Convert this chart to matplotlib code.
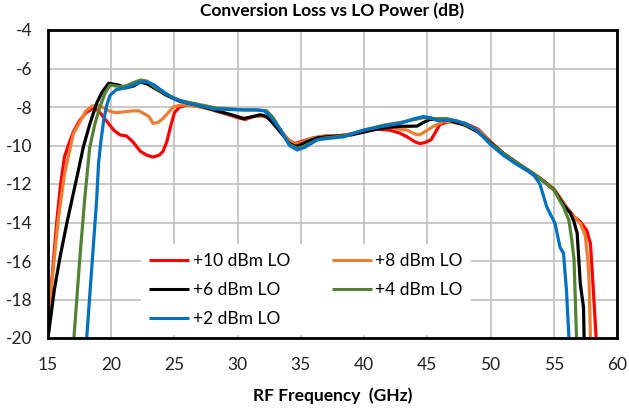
import matplotlib
matplotlib.use("Agg")
import matplotlib.pyplot as plt

plt.rcParams['font.family'] = ['Lato', 'DejaVu Sans']
plt.rcParams['axes.unicode_minus'] = False

# data
x_10 = [15, 15.3, 15.7, 16.0, 16.3, 16.6, 17.0, 17.5, 18.0, 18.6, 19.0, 19.6, 20.2, 20.7, 21.2, 21.7, 22.3, 22.8,
        23.3, 23.8, 24.1, 24.4, 24.7, 25.0, 25.4, 26, 27, 28, 29, 30, 30.6, 31.2, 32, 32.8, 33.5, 34.0, 34.5, 35,
        36, 37, 38, 39, 40, 41, 42, 42.8, 43.4, 44.0, 44.4, 44.8, 45.3, 46.0, 46.8, 48, 49, 50, 51, 52, 53, 54,
        55, 56, 56.6, 57.1, 57.6, 57.9, 58.1, 58.35]
y_10 = [-20, -17, -13.9, -12, -10.6, -10.0, -9.3, -8.7, -8.3, -8.05, -8.2, -8.7, -9.2, -9.45, -9.5, -9.8, -10.3, -10.5,
        -10.6, -10.5, -10.3, -9.8, -9.0, -8.3, -8.0, -7.9, -7.95, -8.15, -8.35, -8.55, -8.65, -8.5, -8.45, -8.7, -9.3,
        -9.7, -9.9, -9.8, -9.6, -9.5, -9.5, -9.4, -9.25, -9.15, -9.2, -9.35, -9.55, -9.8, -9.9, -9.85, -9.7, -8.9,
        -8.75, -8.85, -9.15, -9.8, -10.4, -10.9, -11.3, -11.75, -12.25, -13.2, -13.7, -13.96, -14.4, -15.1, -17.2, -20]

x_8 = [15, 15.4, 15.8, 16.3, 17.0, 17.5, 18.0, 18.5, 18.9, 19.3, 19.8, 20.4, 21.0, 21.7, 22.2, 22.6, 23.0, 23.3,
       23.7, 24.1, 24.5, 24.9, 25.5, 26, 27, 28, 29, 30, 30.6, 31.2, 32, 32.8, 33.5, 34, 34.5, 35, 36, 37, 38, 39,
       40, 41, 42, 42.8, 43.4, 44.0, 44.4, 45.0, 45.5, 46.3, 47, 48, 49, 50, 51, 52, 53, 54, 55, 56, 56.4, 56.8,
       57.1, 57.5, 57.7, 57.8, 57.9]
y_8 = [-19, -16.5, -13.9, -11.5, -9.4, -8.8, -8.2, -7.95, -7.9, -8.0, -8.2, -8.3, -8.25, -8.2, -8.2, -8.35, -8.5,
       -8.85, -8.8, -8.6, -8.3, -8.0, -7.9, -7.9, -8.0, -8.15, -8.35, -8.5, -8.6, -8.5, -8.45, -8.7, -9.3, -9.7,
       -9.95, -9.85, -9.6, -9.5, -9.5, -9.4, -9.25, -9.1, -9.05, -9.15, -9.2, -9.4, -9.45, -9.2, -9.0, -8.75, -8.8,
       -8.9, -9.2, -9.8, -10.4, -10.9, -11.3, -11.75, -12.25, -13.2, -13.6, -13.85, -14.05, -14.7, -16, -17.2, -20]

x_6 = [15, 15.5, 15.95, 16.5, 16.9, 17.4, 17.8, 18.3, 18.85, 19.3, 19.8, 20.5, 21.2, 21.8, 22.3, 22.85, 23.5, 24.4,
       25.4, 26.8, 28.35, 29.5, 30.45, 31.2, 31.8, 32.3, 32.8, 33.5, 34.1, 34.6, 35, 35.5, 36.3, 37, 38, 39, 40, 41,
       42, 43, 43.6, 44.2, 44.7, 45.2, 46.3, 47, 48, 49, 50, 51, 52, 53, 54, 55, 55.8, 56.3, 56.6, 56.85, 57.1,
       57.35, 57.4]
y_6 = [-20, -17.5, -15.8, -14.0, -12.8, -11.3, -10.06, -8.9, -7.8, -7.2, -6.77, -6.85, -7.0, -6.9, -6.7, -6.8, -7.05,
       -7.4, -7.7, -7.9, -8.2, -8.4, -8.6, -8.5, -8.4, -8.5, -8.85, -9.4, -9.9, -10.05, -9.95, -9.8, -9.6, -9.55,
       -9.5, -9.45, -9.3, -9.15, -9.05, -9.0, -9.0, -8.99, -8.8, -8.65, -8.6, -8.75, -8.95, -9.3, -9.85, -10.4,
       -10.85, -11.3, -11.75, -12.3, -13.1, -13.5, -13.96, -14.56, -17.2, -18.4, -20]

x_4 = [17.05, 17.5, 17.9, 18.3, 18.7, 19.1, 19.5, 19.9, 20.3, 20.7, 21.2, 21.7, 22.3, 22.8, 23.5, 24.4, 25.4, 26.8,
       28.3, 29.5, 30.5, 31.5, 32.3, 32.8, 33.5, 34.1, 34.7, 35.2, 36.3, 37, 38.4, 40, 41.5, 42.9, 44, 44.7, 45.5,
       46.5, 47.5, 48.9, 50, 51, 52, 53, 54, 55.0, 55.77, 56.2, 56.4, 56.6, 56.8]
y_4 = [-20, -16.0, -12.8, -10.1, -8.9, -8.0, -7.3, -6.86, -6.9, -6.95, -6.9, -6.75, -6.6, -6.65, -7.0, -7.35, -7.65,
       -7.85, -8.05, -8.1, -8.15, -8.15, -8.2, -8.55, -9.3, -9.95, -10.15, -10.05, -9.7, -9.6, -9.5, -9.2, -8.95,
       -8.8, -8.65, -8.55, -8.6, -8.6, -8.75, -9.2, -9.9, -10.4, -10.85, -11.3, -11.75, -12.3, -13.2, -13.9, -14.8,
       -15.9, -20]

x_2 = [18.06, 18.5, 18.85, 19.0, 19.2, 19.4, 19.65, 19.9, 20.4, 21.2, 21.8, 22.3, 22.85, 23.4, 23.9, 24.9, 26.0,
       27.1, 28.1, 29, 30.2, 31.5, 32.1, 32.6, 33.4, 34.1, 34.7, 35.3, 36.3, 37.3, 38.4, 39.95, 41.5, 42.85, 44.0,
       44.7, 45.2, 45.75, 47.1, 48, 48.9, 50, 51, 52, 53, 53.5, 53.9, 54.45, 55.1, 55.5, 55.77, 56.0, 56.2]
y_2 = [-20, -16, -12.8, -10.9, -9.7, -8.7, -7.9, -7.4, -7.1, -7.0, -6.85, -6.7, -6.7, -6.85, -7.1, -7.55, -7.8,
       -7.95, -8.1, -8.12, -8.15, -8.15, -8.2, -8.5, -9.2, -10.0, -10.23, -10.1, -9.7, -9.62, -9.55, -9.2, -9.0,
       -8.85, -8.6, -8.5, -8.55, -8.7, -8.7, -8.85, -9.2, -9.95, -10.5, -10.95, -11.35, -11.6, -12.0, -13.2,
       -14.05, -15.3, -15.6, -17.5, -20]

labels = ['+10 dBm LO', '+8 dBm LO', '+6 dBm LO', '+4 dBm LO', '+2 dBm LO']
colors = ['#FF0000', '#ED7D31', '#000000', '#548235', '#0070C0']
series = [(x_10, y_10), (x_8, y_8), (x_6, y_6), (x_4, y_4), (x_2, y_2)]

fig = plt.figure(figsize=(6.29, 4.12), dpi=100)
ax = fig.add_axes([48/629, 74/412, 569/629, 308/412])

handles = []
for (xs, ys), c, lab in zip(series, colors, labels):
    h, = ax.plot(xs, ys, color=c, lw=2.3, label=lab, solid_capstyle='butt')
    handles.append(h)

ax.set_xlim(15, 60)
ax.set_ylim(-20, -4)
ax.set_xticks(range(15, 61, 5))
ax.set_yticks(range(-20, -3, 2))
ax.grid(True, color='#BFBFBF', lw=1.2)
ax.set_axisbelow(True)
for s in ax.spines.values():
    s.set_linewidth(2.0)
    s.set_color('black')
ax.tick_params(length=0, labelsize=12.5, colors='#222222')
ax.tick_params(axis='y', pad=11)
ax.tick_params(axis='x', pad=14)

ax.set_title('Conversion Loss vs LO Power (dB)', fontsize=12.5, fontweight='bold', pad=10)
ax.set_xlabel('RF Frequency  (GHz)', fontsize=12.5, fontweight='bold', labelpad=10)

# legend filled row by row like the original
order = [0, 2, 4, 1, 3]
leg = ax.legend([handles[i] for i in order], [labels[i] for i in order],
                ncol=2, loc='lower left', bbox_to_anchor=(0.158, 0.0), fontsize=12.5,
                frameon=True, facecolor='white', edgecolor='none', framealpha=1.0, fancybox=False,
                handlelength=2.3, handletextpad=0.2, columnspacing=2.4, labelspacing=0.75,
                borderpad=0.5, borderaxespad=0.15)
for ln in leg.get_lines():
    ln.set_linewidth(2.2)

fig.savefig('out.png', dpi=100)
